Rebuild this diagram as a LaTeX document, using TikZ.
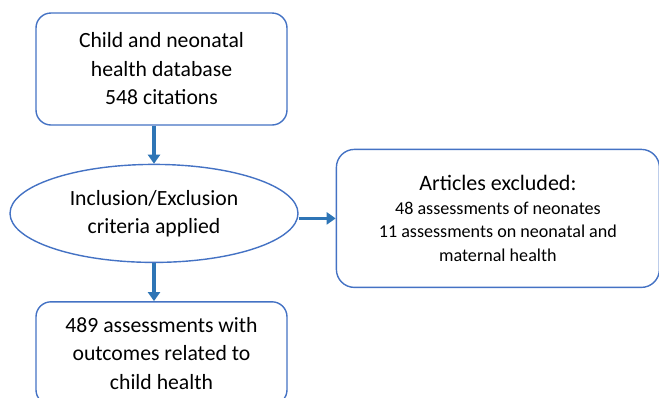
\documentclass[tikz,border=0pt]{standalone}
\usepackage{fontspec}
\setmainfont{Carlito}
\usetikzlibrary{shapes.geometric, arrows.meta, positioning}
\definecolor{boxline}{RGB}{68,114,196}
\definecolor{arrowblue}{RGB}{46,117,182}
\tikzset{
    block/.style={
        rectangle,
        rounded corners=15pt,
        draw=boxline,
        line width=1.4pt,
        fill=white,
        align=center,
        minimum width=251pt,
        font=\fontsize{21.7pt}{28.5pt}\selectfont
    },
    decision/.style={
        ellipse,
        draw=boxline,
        line width=1.4pt,
        fill=white,
        align=center,
        inner sep=0pt,
        minimum width=288pt,
        minimum height=98pt,
        font=\fontsize{21.7pt}{28pt}\selectfont
    },
    sideblock/.style={
        block,
        rounded corners=18pt,
        minimum width=323pt,
        minimum height=138pt,
        font=\fontsize{18.1pt}{23.5pt}\selectfont
    },
    connection/.style={
        draw=arrowblue,
        line width=3.4pt,
        -{Triangle[width=12pt,length=9pt]}
    }
}
\begin{document}
\begin{tikzpicture}
\useasboundingbox (0,0) rectangle (659pt,-397pt);
% Flow
\node[block, minimum height=112pt] (database) at (161.5pt,-69pt) {Child and neonatal\\health database\\548 citations};
\node[decision, below=38pt of database, xshift=-7.5pt] (criteria) {Inclusion/Exclusion\\criteria applied};
\node[block, minimum height=103pt, below=38pt of criteria, xshift=7.5pt] (included) {489 assessments with\\outcomes related to\\child health};
\node[sideblock, right=37pt of criteria, yshift=-5pt] (excluded) {{\fontsize{22pt}{26pt}\selectfont Articles excluded:}\\48 assessments of neonates\\11 assessments on neonatal and\\maternal health};

\draw[connection] (database.south -| criteria.north) -- (criteria.north);
\draw[connection] (criteria.east |- excluded.west) -- (excluded.west);
\draw[connection] (criteria.south) -- (included.north -| criteria.south);
\end{tikzpicture}
\end{document}
